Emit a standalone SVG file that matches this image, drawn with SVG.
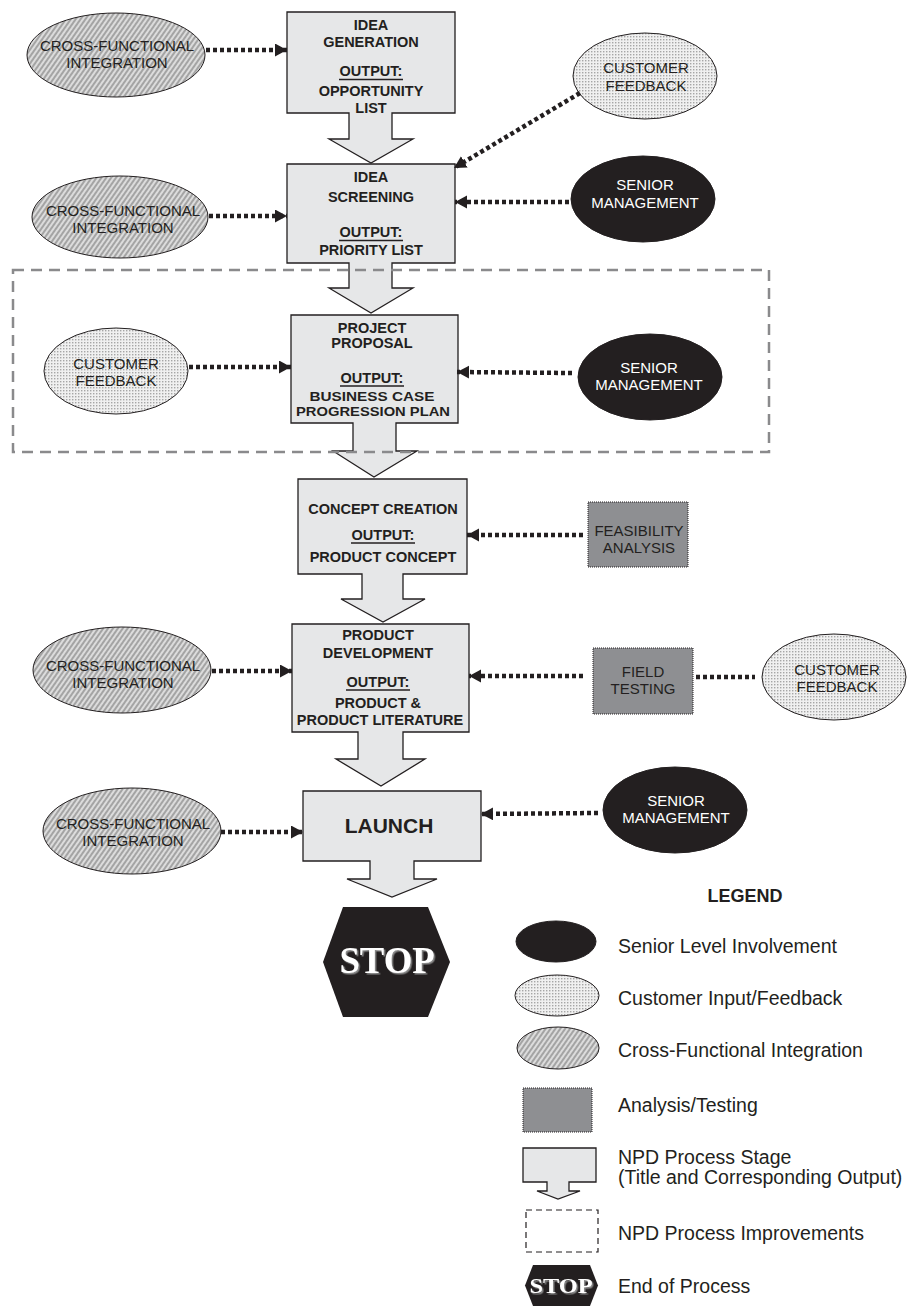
<svg xmlns="http://www.w3.org/2000/svg" width="909" height="1311" viewBox="0 0 909 1311">
<defs>
<style>
.stage{fill:#e6e7e8;stroke:#231f20;stroke-width:1.3}
.st{font-family:"Liberation Sans",Arial,sans-serif;font-weight:bold;font-size:14.5px;fill:#231f20;text-anchor:middle}
.et{font-family:"Liberation Sans",Arial,sans-serif;font-size:15px;fill:#231f20;text-anchor:middle}
.wt{fill:#ffffff}
.ul{stroke:#231f20;stroke-width:1.3}
.cf{fill:url(#hatch);stroke:#231f20;stroke-width:1}
.cu{fill:url(#dots);stroke:#231f20;stroke-width:1}
.sm{fill:#231f20;stroke:#231f20;stroke-width:1}
.an{fill:#8e8f92;stroke:#231f20;stroke-width:1;stroke-dasharray:1 1}
.con{fill:none;stroke:#231f20;stroke-width:4.5;stroke-dasharray:4 3}
.arr{marker-end:url(#ah)}
.stop{fill:#231f20}
.stopt{font-family:"Liberation Serif","Times New Roman",serif;font-weight:bold;fill:#ffffff;text-anchor:middle}
.lg{font-family:"Liberation Sans",Arial,sans-serif;font-size:19.5px;fill:#231f20}
</style>
<pattern id="hatch" patternUnits="userSpaceOnUse" width="4" height="4" patternTransform="rotate(35)">
<rect width="4" height="4" fill="#dcdcdc"/>
<line x1="1" y1="0" x2="1" y2="4" stroke="#7f7f7f" stroke-width="1.2"/>
</pattern>
<pattern id="dots" patternUnits="userSpaceOnUse" width="3" height="3">
<rect width="3" height="3" fill="#f0f0f0"/>
<rect width="1.4" height="1.4" fill="#a6a6a6"/>
</pattern>
<marker id="ah" markerUnits="userSpaceOnUse" markerWidth="14" markerHeight="14" refX="12" refY="6.5" orient="auto" viewBox="0 0 14 14">
<path d="M0,0 L12,6.5 L0,13 Z" fill="#231f20"/>
</marker>
<filter id="sh" x="-10%" y="-10%" width="130%" height="130%">
<feDropShadow dx="1.5" dy="1.5" stdDeviation="0.4" flood-color="#8a8a8a"/>
</filter>
</defs>
<rect width="909" height="1311" fill="#ffffff"/>

<g id="stage-idea-generation">
<path class="stage" d="M287,12 H455 V113 H392 V139 H413 L371,163 L329,139 H349 V113 H287 Z"/>
<text class="st" x="371" y="30">IDEA</text>
<text class="st" x="371" y="47">GENERATION</text>
<text class="st" x="371" y="76">OUTPUT:</text>
<line class="ul" x1="339" y1="79.5" x2="403" y2="79.5"/>
<text class="st" x="371" y="96">OPPORTUNITY</text>
<text class="st" x="371" y="113">LIST</text>
</g>

<g id="stage-idea-screening">
<path class="stage" d="M287,164 H455 V263 H392 V288 H413 L371,313 L329,288 H349 V263 H287 Z"/>
<text class="st" x="371" y="182">IDEA</text>
<text class="st" x="371" y="202">SCREENING</text>
<text class="st" x="371" y="237">OUTPUT:</text>
<line class="ul" x1="339" y1="240.5" x2="403" y2="240.5"/>
<text class="st" x="371" y="255">PRIORITY LIST</text>
</g>

<g id="stage-project-proposal">
<path class="stage" d="M291,315 H458 V423 H396 V451 H417 L374,477 L333,451 H353 V423 H291 Z"/>
<text class="st" x="372" y="333">PROJECT</text>
<text class="st" x="372" y="348">PROPOSAL</text>
<text class="st" x="372" y="383">OUTPUT:</text>
<line class="ul" x1="340" y1="386" x2="404" y2="386"/>
<text class="st" x="372" y="401" style="font-size:13px" textLength="125" lengthAdjust="spacingAndGlyphs">BUSINESS CASE</text>
<text class="st" x="373" y="416" style="font-size:13px" textLength="154" lengthAdjust="spacingAndGlyphs">PROGRESSION PLAN</text>
</g>

<g id="stage-concept-creation">
<path class="stage" d="M298,479 H467 V574 H403 V599 H425 L383,622 L341,599 H362 V574 H298 Z"/>
<text class="st" x="383" y="514">CONCEPT CREATION</text>
<text class="st" x="383" y="540">OUTPUT:</text>
<line class="ul" x1="351" y1="543" x2="415" y2="543"/>
<text class="st" x="383" y="562">PRODUCT CONCEPT</text>
</g>

<g id="stage-product-development">
<path class="stage" d="M292,624 H469 V732 H403 V759 H425 L381,786 L336,759 H358 V732 H292 Z"/>
<text class="st" x="378" y="640">PRODUCT</text>
<text class="st" x="378" y="658">DEVELOPMENT</text>
<text class="st" x="378" y="687">OUTPUT:</text>
<line class="ul" x1="346" y1="690" x2="410" y2="690"/>
<text class="st" x="378" y="708">PRODUCT &amp;</text>
<text class="st" x="380" y="725">PRODUCT LITERATURE</text>
</g>

<g id="stage-launch">
<path class="stage" d="M303,791 H481 V861 H414 V879 H437 L392,897 L347,879 H370 V861 H303 Z"/>
<text class="st" x="389" y="833" style="font-size:21px">LAUNCH</text>
</g>

<g id="stop">
<polygon class="stop" points="343,907 428,907 450,962 428,1017 343,1017 323,962"/>
<text class="stopt" x="387" y="973" style="font-size:37px" textLength="95" lengthAdjust="spacingAndGlyphs" filter="url(#sh)">STOP</text>
</g>

<g id="cfi-1">
<ellipse class="cf" cx="116" cy="55" rx="89" ry="42"/>
<text class="et" x="117" y="51">CROSS-FUNCTIONAL</text>
<text class="et" x="117" y="68">INTEGRATION</text>
</g>
<g id="cfi-2">
<ellipse class="cf" cx="120" cy="217" rx="88" ry="41"/>
<text class="et" x="123" y="216">CROSS-FUNCTIONAL</text>
<text class="et" x="123" y="233">INTEGRATION</text>
</g>
<g id="cfi-3">
<ellipse class="cf" cx="122" cy="670" rx="89" ry="43"/>
<text class="et" x="123" y="671">CROSS-FUNCTIONAL</text>
<text class="et" x="123" y="688">INTEGRATION</text>
</g>
<g id="cfi-4">
<ellipse class="cf" cx="132" cy="831" rx="89" ry="43"/>
<text class="et" x="133" y="829">CROSS-FUNCTIONAL</text>
<text class="et" x="133" y="846">INTEGRATION</text>
</g>

<g id="customer-1">
<ellipse class="cu" cx="645" cy="76" rx="72" ry="43"/>
<text class="et" x="646" y="73">CUSTOMER</text>
<text class="et" x="646" y="91">FEEDBACK</text>
</g>
<g id="customer-2">
<ellipse class="cu" cx="116" cy="371" rx="72" ry="43"/>
<text class="et" x="116" y="369">CUSTOMER</text>
<text class="et" x="116" y="386">FEEDBACK</text>
</g>
<g id="customer-3">
<ellipse class="cu" cx="834" cy="677" rx="72" ry="43"/>
<text class="et" x="837" y="675">CUSTOMER</text>
<text class="et" x="837" y="692">FEEDBACK</text>
</g>

<g id="senior-1">
<ellipse class="sm" cx="643" cy="199" rx="72" ry="43"/>
<text class="et wt" x="645" y="190">SENIOR</text>
<text class="et wt" x="645" y="208">MANAGEMENT</text>
</g>
<g id="senior-2">
<ellipse class="sm" cx="650" cy="377" rx="72" ry="43"/>
<text class="et wt" x="649" y="373">SENIOR</text>
<text class="et wt" x="649" y="390">MANAGEMENT</text>
</g>
<g id="senior-3">
<ellipse class="sm" cx="675" cy="810" rx="72" ry="43"/>
<text class="et wt" x="676" y="806">SENIOR</text>
<text class="et wt" x="676" y="823">MANAGEMENT</text>
</g>

<g id="feasibility-analysis">
<rect class="an" x="588" y="502" width="100" height="65"/>
<text class="et" x="639" y="536">FEASIBILITY</text>
<text class="et" x="639" y="553">ANALYSIS</text>
</g>
<g id="field-testing">
<rect class="an" x="593" y="648" width="100" height="66"/>
<text class="et" x="643" y="677">FIELD</text>
<text class="et" x="643" y="694">TESTING</text>
</g>

<g id="connectors">
<line class="con arr" x1="206" y1="50" x2="287" y2="50"/>
<line class="con arr" x1="580" y1="93" x2="454" y2="168"/>
<line class="con arr" x1="209" y1="216" x2="287" y2="216"/>
<line class="con arr" x1="569" y1="202" x2="455" y2="202"/>
<line class="con arr" x1="189" y1="367" x2="291" y2="367"/>
<line class="con arr" x1="572" y1="373" x2="457" y2="372"/>
<line class="con arr" x1="583" y1="535" x2="467" y2="535"/>
<line class="con arr" x1="212" y1="671" x2="292" y2="671"/>
<line class="con arr" x1="583" y1="676" x2="469" y2="676"/>
<line class="con" x1="696" y1="677" x2="755" y2="677"/>
<line class="con arr" x1="221" y1="832" x2="303" y2="832"/>
<line class="con arr" x1="598" y1="813" x2="481" y2="814"/>
</g>

<g id="improvement-region">
<rect x="13" y="270" width="756" height="182" fill="none" stroke="#8a8a8c" stroke-width="2.5" stroke-dasharray="11 7"/>
</g>

<g id="legend">
<text x="745" y="902" text-anchor="middle" style="font-family:'Liberation Sans',Arial,sans-serif;font-weight:bold;font-size:18px;fill:#231f20">LEGEND</text>
<ellipse class="sm" cx="556" cy="941.5" rx="40" ry="20.5"/>
<text class="lg" x="618" y="953">Senior Level Involvement</text>
<ellipse class="cu" cx="557" cy="995.5" rx="42" ry="20.5"/>
<text class="lg" x="618" y="1005">Customer Input/Feedback</text>
<ellipse class="cf" cx="558" cy="1048" rx="41" ry="21"/>
<text class="lg" x="618" y="1057">Cross-Functional Integration</text>
<rect class="an" x="523" y="1088" width="69" height="44"/>
<text class="lg" x="618" y="1112">Analysis/Testing</text>
<path class="stage" d="M523,1148 H596 V1182 H569 V1191 H580 L558,1199 L537,1191 H547 V1182 H523 Z"/>
<text class="lg" x="618" y="1164">NPD Process Stage</text>
<text class="lg" x="618" y="1184">(Title and Corresponding Output)</text>
<rect x="526" y="1210" width="72" height="42" fill="none" stroke="#231f20" stroke-width="1.2" stroke-dasharray="6 4"/>
<text class="lg" x="618" y="1240">NPD Process Improvements</text>
<polygon class="stop" points="533,1265 590,1265 598,1285.5 590,1306 533,1306 525,1285.5"/>
<text class="stopt" x="561" y="1293" style="font-size:21px" textLength="63" lengthAdjust="spacingAndGlyphs" filter="url(#sh)">STOP</text>
<text class="lg" x="618" y="1293">End of Process</text>
</g>
</svg>
